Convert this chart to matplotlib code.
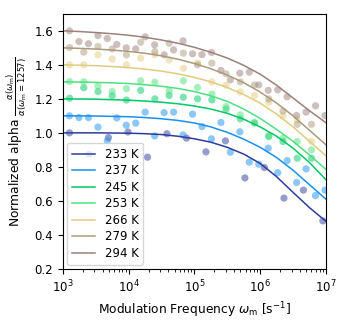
import numpy as np
import matplotlib
matplotlib.use("Agg")
import matplotlib.pyplot as plt

# legend labels / colours
temps = ["233 K", "237 K", "245 K", "253 K", "266 K", "279 K", "294 K"]
colors = ["#2e3d9a", "#1890f0", "#00c864", "#4de17f", "#e0cc7e", "#ad9a7c", "#9b817c"]

# measured points (modulation frequency in s^-1)
f_233 = [1257, 2490, 4920, 9750, 19300, 38200, 75600, 149500, 296000, 586000,
         1.16e6, 2.30e6, 4.54e6, 8.99e6]
a_233 = [1.00, 0.875, 0.972, 1.005, 0.857, 0.995, 0.969, 0.888, 0.953, 0.735,
         0.796, 0.616, 0.663, 0.482]

f_fine = [1257, 1750, 2440, 3400, 4730, 6590, 9180, 12790, 17820, 24820,
          34570, 48160, 67090, 93450, 130200, 181300, 252600, 351900, 490200,
          682800, 951200, 1.325e6, 1.846e6, 2.571e6, 3.581e6, 4.988e6,
          6.949e6, 9.68e6]
a_237 = [1.10, 1.09, 1.09, 1.034, 0.953, 1.088, 1.045, 1.057, 1.122, 0.982,
         1.119, 1.122, 0.988, 1.11, 1.037, 0.965, 1.061, 0.886, 1.006, 0.828,
         0.816, 0.91, 0.766, 0.837, 0.708, 0.788, 0.631, 0.663]
a_294 = [1.60, 1.537, 1.524, 1.572, 1.555, 1.52, 1.50, 1.494, 1.565, 1.518,
         1.459, 1.488, 1.541, 1.465, 1.46, 1.473, 1.367, 1.312, 1.351, 1.357,
         1.282, 1.25, 1.253, 1.212, 1.102, 1.122, 1.159, 1.102]

f_mid = [1257, 2070, 3410, 5610, 9230, 15200, 25000, 41200, 67800, 111600,
         183800, 302500, 498000, 820000, 1.35e6, 2.22e6, 3.66e6, 6.02e6]
a_245 = [1.204, 1.265, 1.243, 1.218, 1.193, 1.25, 1.20, 1.22, 1.21, 1.20,
         1.194, 1.14, 1.082, 1.06, 0.978, 0.949, 0.851, 0.851]
a_253 = [1.302, 1.30, 1.276, 1.243, 1.26, 1.306, 1.298, 1.247, 1.306, 1.267,
         1.228, 1.155, 1.106, 1.057, 0.984, 0.969, 0.949, 0.90]
a_266 = [1.40, 1.40, 1.459, 1.434, 1.40, 1.44, 1.46, 1.429, 1.38, 1.41,
         1.30, 1.28, 1.241, 1.22, 1.18, 1.10, 1.076, 0.95]
a_279 = [1.502, 1.475, 1.508, 1.494, 1.459, 1.533, 1.478, 1.527, 1.469, 1.40,
         1.41, 1.347, 1.30, 1.282, 1.20, 1.129, 1.05, 1.05]

f_fit = [1e3, 1778, 3162, 5623, 1e4, 17780, 31620, 56230, 1e5, 177800,
         316200, 562300, 1e6, 1.778e6, 3.162e6, 5.623e6, 1e7]
fit_233 = [1.00, 1.00, 1.00, 0.999, 0.998, 0.995, 0.99, 0.98, 0.965, 0.945,
           0.915, 0.875, 0.82, 0.742, 0.65, 0.56, 0.48]
fit_237 = [1.10, 1.10, 1.099, 1.097, 1.095, 1.09, 1.083, 1.073, 1.058, 1.035,
           1.003, 0.963, 0.915, 0.855, 0.78, 0.695, 0.61]
fit_245 = [1.20, 1.199, 1.198, 1.195, 1.192, 1.187, 1.18, 1.171, 1.158, 1.14,
           1.115, 1.08, 1.035, 0.98, 0.91, 0.825, 0.725]
fit_253 = [1.30, 1.299, 1.297, 1.294, 1.29, 1.283, 1.274, 1.261, 1.243, 1.218,
           1.185, 1.14, 1.085, 1.02, 0.95, 0.87, 0.785]
fit_266 = [1.40, 1.398, 1.395, 1.39, 1.384, 1.375, 1.363, 1.347, 1.326, 1.30,
           1.267, 1.225, 1.175, 1.11, 1.035, 0.95, 0.865]
fit_279 = [1.50, 1.497, 1.493, 1.487, 1.479, 1.468, 1.453, 1.433, 1.408, 1.377,
           1.34, 1.295, 1.24, 1.175, 1.10, 1.015, 0.93]
fit_294 = [1.60, 1.596, 1.59, 1.583, 1.574, 1.562, 1.546, 1.527, 1.503, 1.474,
           1.44, 1.397, 1.345, 1.28, 1.205, 1.13, 1.06]

points = [(f_233, a_233), (f_fine, a_237), (f_mid, a_245), (f_mid, a_253),
          (f_mid, a_266), (f_mid, a_279), (f_fine, a_294)]
fits = [fit_233, fit_237, fit_245, fit_253, fit_266, fit_279, fit_294]

fig = plt.figure(figsize=(3.46, 3.22), dpi=100)
ax = fig.add_axes([0.182, 0.165, 0.760, 0.792])

for (fx, fy), fit, c, lab in zip(points, fits, colors, temps):
    ax.scatter(fx, fy, s=27, color=c, alpha=0.5, edgecolors="none")
    ax.plot(f_fit, fit, color=c, lw=1.1, label=lab)

ax.set_xscale("log")
ax.set_xlim(1e3, 1e7)
ax.set_ylim(0.2, 1.7)
ax.set_yticks([0.2, 0.4, 0.6, 0.8, 1.0, 1.2, 1.4, 1.6])
ax.tick_params(labelsize=8.5)
ax.set_xlabel(r"Modulation Frequency $\omega_\mathrm{m}$ [s$^{-1}$]", fontsize=8.8)
ax.set_ylabel(r"Normalized alpha $\frac{\alpha(\omega_\mathrm{m})}{\alpha(\omega_\mathrm{m}=1257)}$",
              fontsize=8.8)
ax.legend(loc="lower left", fontsize=8.5, labelspacing=0.3, handlelength=2.0,
          borderaxespad=0.35)

fig.savefig("out.png", dpi=100)
